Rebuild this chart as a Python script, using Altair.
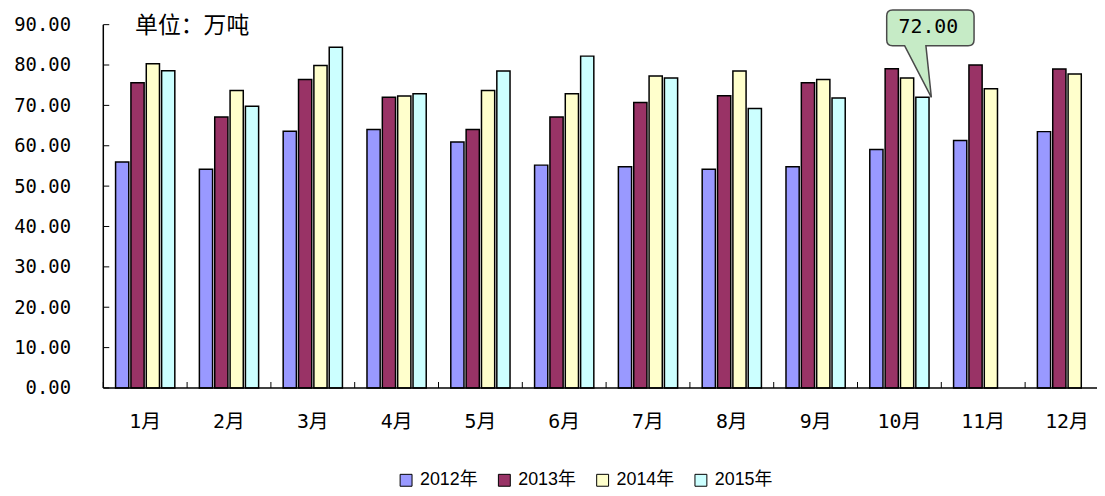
import altair as alt
import pandas as pd

# ---- data ----
months = ["1月", "2月", "3月", "4月", "5月", "6月", "7月", "8月", "9月", "10月", "11月", "12月"]
years = ["2012年", "2013年", "2014年", "2015年"]
v2012 = [56.0, 54.2, 63.6, 64.0, 60.9, 55.2, 54.8, 54.2, 54.8, 59.1, 61.3, 63.5]
v2013 = [75.6, 67.1, 76.4, 72.0, 64.0, 67.1, 70.7, 72.4, 75.6, 79.1, 80.0, 79.0]
v2014 = [80.3, 73.7, 79.9, 72.3, 73.7, 72.9, 77.3, 78.5, 76.4, 76.8, 74.1, 77.8]
v2015 = [78.6, 69.8, 84.4, 72.9, 78.5, 82.2, 76.8, 69.2, 71.8, 72.0, None, None]
colors = ["#9999FF", "#993366", "#FFFFCC", "#CCFFFF"]
y_ticks = [0, 10, 20, 30, 40, 50, 60, 70, 80, 90]
unit_label = "单位：万吨"
callout_month = "10月"
callout_year = "2015年"

rows = []
for yr, vals in zip(years, [v2012, v2013, v2014, v2015]):
    for m, v in zip(months, vals):
        if v is not None:
            rows.append({"month": m, "year": yr, "value": v})
df = pd.DataFrame(rows)

mono = "DejaVu Sans Mono, Noto Sans CJK SC"
cjk = "Noto Sans CJK SC"

x_scale = alt.Scale(domain=months, range=[0, 1013], paddingInner=0, paddingOuter=0)
y_scale = alt.Scale(domain=[0, 90], nice=False, zero=True)

x_enc = alt.X(
    "month:N", sort=months, scale=x_scale,
    axis=alt.Axis(title=None, labelAngle=0, domain=False, ticks=False, labelPadding=24,
                  labelFont=mono, labelFontSize=20, labelColor="black"),
)
xo_enc = alt.XOffset("year:N", sort=years,
                     scale=alt.Scale(domain=years, paddingInner=0.14, paddingOuter=0.8))
y_enc = alt.Y(
    "value:Q", scale=y_scale,
    axis=alt.Axis(title=None, values=y_ticks, format=".2f", domain=False, grid=False,
                  ticks=False, labelPadding=33,
                  labelFont="DejaVu Sans Mono", labelFontSize=19, labelColor="black"),
)

bars = alt.Chart(df).mark_bar(stroke="black", strokeWidth=1.5, opacity=1).encode(
    x=x_enc, xOffset=xo_enc, y=y_enc,
    color=alt.Color("year:N", sort=years, scale=alt.Scale(domain=years, range=colors),
                    legend=alt.Legend(title=None, orient="none", legendX=296, legendY=450,
                                      direction="horizontal", symbolType="square",
                                      symbolSize=144, symbolStrokeColor="black",
                                      symbolStrokeWidth=1, symbolOpacity=1,
                                      labelFont="Liberation Sans, Noto Sans CJK SC",
                                      labelFontSize=18, labelColor="black", labelOffset=5,
                                      columnPadding=17, padding=0)),
)

callout_path = ("M -18,-52 L 9,0 L 3.5,-52 L 46,-52 Q 52,-52 52,-58 L 52,-82 "
                "Q 52,-88 46,-88 L -30,-88 Q -36,-88 -36,-82 L -36,-58 Q -36,-52 -30,-52 Z")

sel = (alt.datum.month == callout_month) & (alt.datum.year == callout_year)

bubble = alt.Chart(df).transform_filter(sel).mark_point(
    shape=callout_path, size=4, filled=True, fill="#C6EBC6", stroke="#4a4a4a",
    strokeWidth=1.5, opacity=1,
).encode(x=alt.X("month:N", sort=months), xOffset=alt.XOffset("year:N", sort=years),
         y="value:Q")

bubble_text = alt.Chart(df).transform_filter(sel).mark_text(
    dx=6, dy=-71, font="DejaVu Sans Mono", fontSize=20, align="center",
    baseline="middle", color="black",
).encode(x=alt.X("month:N", sort=months), xOffset=alt.XOffset("year:N", sort=years),
         y="value:Q", text=alt.Text("value:Q", format=".2f"))

# axis lines and inward ticks (as in the reference)
base_df = pd.DataFrame({"v": [0]})
x_line = alt.Chart(base_df).mark_rule(color="black", strokeWidth=1.5).encode(y=alt.datum(0))
y_line = alt.Chart(base_df).mark_rule(color="black", strokeWidth=1.5).encode(x=alt.value(0))

x_ticks = alt.Chart(pd.DataFrame({"month": months})).mark_rule(
    color="black", strokeWidth=1).encode(
    x=alt.X("month:N", sort=months, bandPosition=0),
    y=alt.datum(0), y2=alt.value(360))
y_tick_marks = alt.Chart(pd.DataFrame({"value": y_ticks})).mark_rule(
    color="black", strokeWidth=1).encode(
    y="value:Q", x=alt.value(0), x2=alt.value(6))

unit = alt.Chart(pd.DataFrame({"t": [unit_label]})).mark_text(
    font=cjk, fontSize=23, align="left", baseline="middle", color="black",
).encode(text="t:N", x=alt.value(32), y=alt.value(1))

chart = alt.layer(bars, x_ticks, y_tick_marks, bubble, bubble_text, x_line, y_line, unit).properties(
    width=1001, height=366,
    autosize=alt.AutoSizeParams(type="none"),
    padding={"left": 96, "top": 15, "right": 0, "bottom": 99},
    background="white",
).configure_view(stroke=None)

chart.save("out.html", embed_options={"renderer": "svg", "actions": False})
